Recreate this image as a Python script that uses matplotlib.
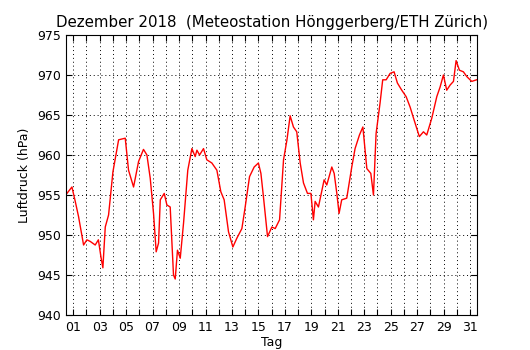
import matplotlib
matplotlib.use("Agg")
import matplotlib.pyplot as plt

# Tag (Bruchteil des Monats) und Luftdruck in hPa
tag = [0.52, 0.9, 1.15, 1.4, 1.78, 2.03, 2.28, 2.66, 2.9, 3.09, 3.24, 3.42, 3.67,
       4.0, 4.43, 4.93, 5.18, 5.56, 5.94, 6.31, 6.57, 6.82, 7.07, 7.27, 7.45,
       7.58, 7.88, 8.08, 8.33, 8.58, 8.71, 8.88, 9.09, 9.34, 9.66, 9.97, 10.22,
       10.35, 10.55, 10.85, 11.1, 11.48, 11.86, 12.16, 12.41, 12.74, 13.07,
       13.37, 13.75, 14.0, 14.33, 14.68, 15.0, 15.19, 15.38, 15.69, 16.02,
       16.27, 16.6, 16.9, 17.16, 17.4, 17.65, 17.9, 18.16, 18.41, 18.71,
       18.97, 19.16, 19.29, 19.54, 19.97, 20.17, 20.55, 20.73, 20.93, 21.1,
       21.3, 21.68, 22.06, 22.31, 22.64, 22.9, 23.2, 23.5, 23.7, 23.9, 24.2,
       24.4, 24.66, 24.96, 25.26, 25.51, 25.84, 26.17, 26.47, 26.77, 27.17,
       27.48, 27.73, 28.11, 28.49, 28.74, 28.99, 29.24, 29.5, 29.75, 29.95,
       30.2, 30.5, 30.76, 31.13, 31.5]
druck = [955.2, 956.0, 954.2, 952.3, 948.75, 949.4, 949.2, 948.75, 949.4, 947.3,
         945.9, 951.0, 952.5, 957.9, 961.9, 962.1, 958.1, 956.0, 959.2, 960.7,
         960.0, 957.1, 952.7, 947.9, 949.0, 954.4, 955.2, 953.75, 953.5, 945.0,
         944.5, 948.1, 947.1, 951.5, 958.1, 960.8, 959.8, 960.6, 960.0, 960.8,
         959.4, 959.0, 958.1, 955.4, 954.4, 950.4, 948.5, 949.6, 950.8, 953.5,
         957.3, 958.5, 959.0, 957.7, 954.8, 949.8, 951.0, 950.8, 951.9, 959.4,
         961.9, 964.9, 963.5, 962.9, 959.0, 956.5, 955.2, 955.2, 951.9, 954.2,
         953.5, 956.9, 956.25, 958.5, 957.7, 955.2, 952.7, 954.4, 954.6, 958.5,
         960.8, 962.5, 963.5, 958.3, 957.7, 955.0, 962.7, 966.5, 969.4, 969.4,
         970.2, 970.4, 969.0, 968.1, 967.3, 966.0, 964.4, 962.3, 962.9, 962.5,
         964.6, 967.3, 968.5, 970.0, 968.1, 968.75, 969.2, 971.8, 970.6, 970.4,
         969.8, 969.2, 969.4]

tage = list(range(1, 32))
tag_labels = ["%02d" % t if t % 2 == 1 else "" for t in tage]

fig = plt.figure(figsize=(5.3, 3.5), dpi=100)
ax = fig.add_axes([0.125, 0.1, 0.775, 0.8])
ax.plot(tag, druck, color="red", linewidth=1)

ax.set_xlim(0.47, 31.53)
ax.set_ylim(940, 975)
ax.set_xticks(tage)
ax.set_xticklabels(tag_labels)
ax.set_yticks(range(940, 976, 5))
ax.tick_params(direction="in", top=True, right=True, labelsize=9, length=4, pad=4)
ax.grid(True, linestyle=(0, (1, 3)), color="black", linewidth=0.7)
ax.set_xlabel("Tag", fontsize=9, labelpad=2)
ax.set_ylabel("Luftdruck (hPa)", fontsize=9)
ax.set_title("Dezember 2018  (Meteostation Hönggerberg/ETH Zürich)", fontsize=10.8)

fig.savefig("out.png", dpi=100)
